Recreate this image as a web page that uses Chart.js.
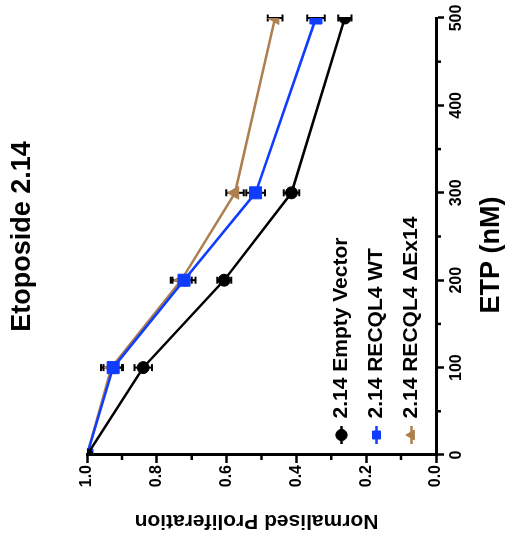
<!DOCTYPE html>
<html>
<head>
<meta charset="utf-8">
<script src="https://cdn.jsdelivr.net/npm/chart.js@4/dist/chart.umd.min.js"></script>
<style>
  html, body { margin: 0; padding: 0; background: #fff; overflow: hidden; }
  /* the figure is laid out landscape and turned a quarter turn counter-clockwise */
  #wrap {
    position: absolute; left: 0; top: 0;
    width: 539px; height: 506px;
    transform-origin: 0 0;
    transform: translate(0, 539px) rotate(-90deg);
  }
  canvas { display: block; }
</style>
</head>
<body>
<div id="wrap"><canvas id="chart" width="539" height="506"></canvas></div>
<script>
// Etoposide dose (nM)
const doses = [0, 100, 200, 300, 500];

// Normalised proliferation, mean and SEM per dose
const emptyVector    = [1.0, 0.839, 0.607, 0.414, 0.261];
const emptyVectorErr = [0,   0.025, 0.020, 0.022, 0.019];
const recql4WT       = [1.0, 0.925, 0.722, 0.517, 0.344];
const recql4WTErr    = [0,   0.028, 0.033, 0.027, 0.025];
const recql4dEx14    = [1.0, 0.930, 0.730, 0.576, 0.461];
const recql4dEx14Err = [0,   0.030, 0.030, 0.025, 0.021];

const seriesLabels = ['2.14 Empty Vector', '2.14 RECQL4 WT', '2.14 RECQL4 \u0394Ex14'];
const doseTicks = [0, 100, 200, 300, 400, 500];
const doseMinorTicks = [50, 150, 250, 350, 450];
const prolifTicks = [0, 0.2, 0.4, 0.6, 0.8, 1.0];
const prolifMinorTicks = [0.1, 0.3, 0.5, 0.7, 0.9];
const xAxisTitle = 'ETP (nM)';
const yAxisTitle = 'Normalised Proliferation';

const BLACK = '#000000';
const BLUE = '#0f3cff';
const BROWN = '#ad7f4e';
const FONT = "'Liberation Sans', Arial, Helvetica, sans-serif";

Chart.defaults.font.family = FONT;
Chart.defaults.font.weight = 'bold';
Chart.defaults.color = '#000';

const toPoints = (vals) => vals.map((v, i) => ({ x: doses[i], y: v }));

// SEM whiskers with caps, drawn beneath the lines and markers
const errorBarPlugin = {
  id: 'errorBars',
  beforeDatasetsDraw(chart) {
    const { ctx, scales: { x, y } } = chart;
    ctx.save();
    ctx.strokeStyle = '#000';
    ctx.lineWidth = 2;
    chart.data.datasets.forEach((ds) => {
      ds.data.forEach((p, i) => {
        const e = ds.errorBars[i];
        if (!e) return;
        const px = x.getPixelForValue(p.x);
        const yHi = y.getPixelForValue(p.y + e);
        const yLo = y.getPixelForValue(p.y - e);
        const cap = 3.5;
        ctx.beginPath();
        ctx.moveTo(px, yHi); ctx.lineTo(px, yLo);
        ctx.moveTo(px - cap, yHi); ctx.lineTo(px + cap, yHi);
        ctx.moveTo(px - cap, yLo); ctx.lineTo(px + cap, yLo);
        ctx.stroke();
      });
    });
    ctx.restore();
  }
};

// short unlabeled ticks between the numbered ones
const minorTickPlugin = {
  id: 'minorTicks',
  afterDraw(chart) {
    const { ctx, chartArea, scales: { x, y } } = chart;
    ctx.save();
    ctx.strokeStyle = '#000';
    ctx.lineWidth = 2.5;
    ctx.beginPath();
    doseMinorTicks.forEach((v) => {
      const px = x.getPixelForValue(v);
      ctx.moveTo(px, chartArea.bottom);
      ctx.lineTo(px, chartArea.bottom + 5);
    });
    prolifMinorTicks.forEach((v) => {
      const py = y.getPixelForValue(v);
      ctx.moveTo(chartArea.left, py);
      ctx.lineTo(chartArea.left - 5, py);
    });
    ctx.stroke();
    ctx.restore();
  }
};

// axis titles, set slightly off the axis centres
const axisTitlePlugin = {
  id: 'axisTitles',
  afterDraw(chart) {
    const { ctx, chartArea } = chart;
    ctx.save();
    ctx.fillStyle = '#000';
    ctx.textAlign = 'center';
    ctx.textBaseline = 'middle';
    ctx.font = "bold 27px " + FONT;
    ctx.fillText(xAxisTitle, (chartArea.left + chartArea.right) / 2 - 18.5, chartArea.bottom + 56);
    ctx.font = "bold 21px " + FONT;
    ctx.translate(18, (chartArea.top + chartArea.bottom) / 2 - 5);
    ctx.rotate(-Math.PI / 2);
    ctx.fillText(yAxisTitle, 0, 0);
    ctx.restore();
  }
};

// legend sits in the lower left of the plot area
const legendPlacePlugin = {
  id: 'legendPlace',
  afterLayout(chart) {
    const legend = chart.legend;
    if (!legend) return;
    const h = legend.height;
    legend.top = chart.chartArea.bottom - 119;
    legend.bottom = legend.top + h;
  }
};

// a short stroke of the series colour through each legend symbol
const legendLinePlugin = {
  id: 'legendLines',
  afterDraw(chart) {
    const legend = chart.legend;
    if (!legend || !legend.legendHitBoxes) return;
    const { ctx } = chart;
    const lbl = legend.options.labels;
    const half = lbl.font.size / 2;
    ctx.save();
    ctx.lineWidth = 2.5;
    legend.legendHitBoxes.forEach((hb, i) => {
      const ds = chart.data.datasets[i];
      const cx = hb.left + lbl.boxWidth / 2;
      const cy = hb.top + half;
      ctx.strokeStyle = ds.borderColor;
      ctx.beginPath();
      ctx.moveTo(cx - 9, cy);
      ctx.lineTo(cx + 9, cy);
      ctx.stroke();
    });
    ctx.restore();
  }
};

const makeSeries = (label, vals, errs, color, style, radius) => ({
  label,
  data: toPoints(vals),
  errorBars: errs,
  borderColor: color,
  backgroundColor: color,
  borderWidth: 2.5,
  pointStyle: style,
  pointRadius: radius,
  pointBackgroundColor: color,
  pointBorderColor: color,
  pointBorderWidth: 1,
  tension: 0,
  fill: false
});

new Chart(document.getElementById('chart'), {
  type: 'line',
  data: {
    datasets: [
      makeSeries(seriesLabels[0], emptyVector, emptyVectorErr, BLACK, 'circle', 6),
      makeSeries(seriesLabels[1], recql4WT, recql4WTErr, BLUE, 'rect', 8.5),
      makeSeries(seriesLabels[2], recql4dEx14, recql4dEx14Err, BROWN, 'triangle', 7.5)
    ]
  },
  options: {
    responsive: false,
    animation: false,
    events: [],
    layout: { padding: { left: 0, right: 18, top: 0, bottom: 0 } },
    scales: {
      x: {
        type: 'linear',
        min: 0,
        max: 500,
        afterBuildTicks: (s) => { s.ticks = doseTicks.map((v) => ({ value: v })); },
        afterFit: (s) => { s.height = 70; },
        ticks: { font: { size: 16, weight: 'bold' }, padding: 3, maxRotation: 0, color: '#000' },
        grid: { display: true, drawOnChartArea: false, drawTicks: true, tickLength: 8, tickWidth: 2.5, tickColor: '#000' },
        border: { display: true, color: '#000', width: 3 },
        title: { display: false }
      },
      y: {
        type: 'linear',
        min: 0,
        max: 1,
        afterBuildTicks: (s) => { s.ticks = prolifTicks.map((v) => ({ value: v })); },
        afterFit: (s) => { s.width = 84; },
        ticks: { font: { size: 16, weight: 'bold' }, padding: 2, color: '#000', callback: (v) => Number(v).toFixed(1) },
        grid: { display: true, drawOnChartArea: false, drawTicks: true, tickLength: 8, tickWidth: 2.5, tickColor: '#000' },
        border: { display: true, color: '#000', width: 3 },
        title: { display: false }
      }
    },
    plugins: {
      title: {
        display: true,
        text: 'Etoposide 2.14',
        fullSize: false,
        font: { size: 27, weight: 'bold' },
        color: '#000',
        padding: { top: 6, bottom: 48.6 }
      },
      legend: {
        display: true,
        position: 'chartArea',
        align: 'start',
        labels: {
          usePointStyle: true,
          boxWidth: 12,
          boxHeight: 8,
          padding: 14,
          color: '#000',
          font: { size: 21, weight: 'bold' }
        }
      },
      tooltip: { enabled: false }
    }
  },
  plugins: [errorBarPlugin, minorTickPlugin, axisTitlePlugin, legendPlacePlugin, legendLinePlugin]
});
</script>
</body>
</html>
